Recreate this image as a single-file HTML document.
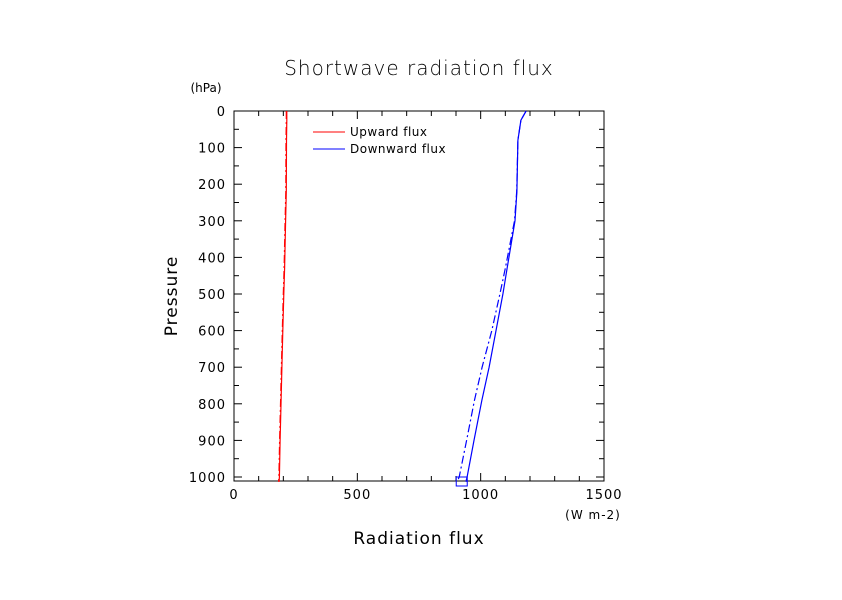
<!DOCTYPE html>
<html><head><meta charset="utf-8"><style>
body{margin:0;background:#fff;}
svg text{font-family:"DejaVu Sans","Liberation Sans",sans-serif;fill:#000;}
</style></head><body>
<svg id="chart" width="842" height="595" viewBox="0 0 842 595">
<text x="419" y="75" font-size="20" letter-spacing="1" text-anchor="middle" font-weight="300">Shortwave radiation flux</text>
<text x="206" y="92" font-size="12" text-anchor="middle">(hPa)</text>
<text x="593" y="519" font-size="12" letter-spacing="1" text-anchor="middle">(W m-2)</text>
<text x="419" y="544" font-size="17" letter-spacing="1" text-anchor="middle">Radiation flux</text>
<text transform="translate(177,296) rotate(-90)" font-size="17" letter-spacing="1" text-anchor="middle">Pressure</text>
<rect x="234" y="111" width="370" height="370" fill="none" stroke="#000" stroke-width="1"/>
<g id="ticks"></g>
<g id="series"></g>
<g>
<line x1="313" y1="132" x2="345" y2="132" stroke="red"/>
<text x="350" y="136" font-size="12" letter-spacing="0.5">Upward flux</text>
<line x1="313" y1="149" x2="345" y2="149" stroke="blue"/>
<text x="350" y="153" font-size="12" letter-spacing="0.5">Downward flux</text>
</g>
</svg>
<script>
const pressure=[0,25,80,220,300,430,500,600,700,790,900,1000,1013];
const downSolid=[1184,1163,1151,1147,1139,1107,1090,1062,1034,1005,973,945,940];
const downDash=[1184,1163,1151,1146,1137,1100,1078,1045,1006,975,943,913,905];
const upSolid=[214,214,213,212,209,205,202,198,194,191,187,184,183];
const upDash=[212,212,211,210,207,203,200,196,192,189,185,182,181];
const xTicks=[0,500,1000,1500];
const yTicks=[0,100,200,300,400,500,600,700,800,900,1000];
const X0=234,X1=604,Y0=111;
const sx=v=>X0+(v/1500)*(X1-X0);
const sy=p=>Y0+p*0.366;
const NS='http://www.w3.org/2000/svg';
const tg=document.getElementById('ticks'),sg=document.getElementById('series');
function mk(tag,attrs,parent){const e=document.createElementNS(NS,tag);for(const k in attrs)e.setAttribute(k,attrs[k]);parent.appendChild(e);return e;}
for(let v=0;v<=1500;v+=100){const x=sx(v);const major=v%500===0;const l=major?8:5;
 const a=mk('line',{x1:x,y1:481,x2:x,y2:481-l,stroke:'#000'},tg);
 
 
 const b=mk('line',{x1:x,y1:111,x2:x,y2:111+l,stroke:'#000'},tg);
 
 }
xTicks.forEach(v=>{const t=mk('text',{x:sx(v),y:499,'font-size':13,'letter-spacing':1,'text-anchor':'middle'},tg);t.textContent=v;
 
 });
for(let p=0;p<=1000;p+=50){const y=sy(p);const major=p%100===0;const l=major?8:5;
 const a=mk('line',{x1:234,y1:y,x2:234+l,y2:y,stroke:'#000'},tg);
 
 
 const b=mk('line',{x1:604,y1:y,x2:604-l,y2:y,stroke:'#000'},tg);
 
 }
yTicks.forEach(p=>{const t=mk('text',{x:226,y:sy(p)+5,'font-size':13,'letter-spacing':1,'text-anchor':'end'},tg);t.textContent=p;
 
 });
function line(vals,color,dash,name){const d=vals.map((v,i)=>(i?'L':'M')+sx(v).toFixed(1)+','+sy(pressure[i]).toFixed(1)).join('');
 const p=mk('path',{d:d,fill:'none',stroke:color,'stroke-width':1.2},sg);if(dash)p.setAttribute('stroke-dasharray','8,3,2,3');
 
 }
line(upSolid,'red',false,'upward-flux-line');
line(upDash,'red',true,'upward-flux-dashdot-line');
line(downSolid,'blue',false,'downward-flux-line');
line(downDash,'blue',true,'downward-flux-dashdot-line');
const m=mk('rect',{x:sx(downDash[downDash.length-1])-1,y:477,width:11,height:9,fill:'none',stroke:'blue'},sg);


</script>
</body></html>
